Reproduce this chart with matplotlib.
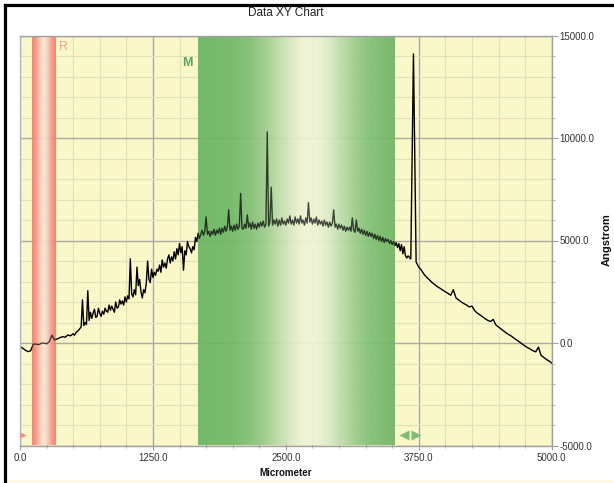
import matplotlib.pyplot as plt
import numpy as np
from matplotlib.colors import to_rgb
from matplotlib.lines import Line2D
from matplotlib.patches import Rectangle
from matplotlib.ticker import MultipleLocator, FormatStrFormatter
from matplotlib.transforms import offset_copy

plt.rcParams["font.family"] = ["Liberation Sans", "DejaVu Sans"]

# scan profile: 25 um steps at the ends, 12.5 um steps through the noisy middle
position_um = np.concatenate([
    np.arange(0, 500, 25),
    np.arange(500, 3650, 12.5),
    np.arange(3650, 5001, 25),
])
height_A = [
    # 0 - 475
    -180, -250, -350, -420, -380, -60, -50, -80,
    -20, 0, -40, 60, 380, 150, 200, 260,
    310, 280, 390, 350,
    # 500 - 3637.5
    450, 380, 500, 560, 620, 700, 780, 2100, 850, 1000, 900, 2550, 1100, 1500, 1200, 1450,
    1650, 1250, 1300, 1700, 1450, 1300, 1550, 1400, 1700, 1550, 1500, 1850, 1600, 1800, 1650, 1500,
    2000, 1700, 1750, 2100, 1900, 2050, 1850, 2250, 2000, 2300, 2150, 4100, 2400, 2250, 2600, 2350,
    3700, 2800, 3100, 2500, 2200, 2600, 2450, 2900, 4000, 3100, 2950, 3600, 3200, 3450, 3300, 3600,
    3500, 3800, 3450, 4050, 3700, 3900, 3650, 4100, 4300, 3900, 4200, 4000, 4450, 4100, 4600, 4300,
    4850, 4400, 4700, 3550, 4500, 4300, 4950, 4700, 4600, 4400, 4700, 4550, 5150, 4950, 5350, 5100,
    5300, 5500, 5250, 5450, 6150, 5300, 5450, 5200, 5450, 5300, 5550, 5250, 5500, 5350, 5600, 5300,
    5600, 5400, 5700, 5450, 5650, 6500, 5500, 5700, 5450, 5750, 5500, 5800, 5550, 5700, 7300, 5600,
    5550, 5800, 5600, 6250, 5650, 5850, 5550, 5900, 5600, 5800, 5550, 5850, 5650, 5900, 5700, 5950,
    5650, 5800, 10300, 5700, 5900, 7600, 5750, 6000, 5800, 6050, 5700, 6000, 5750, 6100, 5800, 5950,
    5750, 6050, 5850, 6200, 5800, 6000, 5750, 6150, 5850, 6050, 5800, 6200, 5850, 6000, 5750, 6100,
    5850, 6850, 5900, 6100, 5800, 6050, 5850, 6150, 5750, 6000, 5800, 5950, 5700, 6000, 5750, 5900,
    5650, 5900, 5700, 5850, 6500, 5650, 5800, 5550, 5800, 5600, 5750, 5500, 5700, 5450, 5650, 5500,
    5650, 5450, 6100, 5500, 5400, 6000, 5450, 5600, 5350, 5550, 5300, 5500, 5250, 5450, 5200, 5400,
    5200, 5350, 5100, 5300, 5050, 5250, 5000, 5200, 4950, 5150, 4900, 5100, 4950, 5050, 4850, 5000,
    4800, 4950, 4750, 4900, 4650, 4850, 4500, 4800, 4350, 4700, 4250, 4150,
    # 3650 - 5000
    4250, 4100, 14100, 3950, 3700, 3550,
    3350, 3200, 3080, 2950, 2850, 2750, 2670, 2580,
    2500, 2420, 2330, 2600, 2200, 2100, 2000, 1920,
    1850, 1760, 1800, 1580, 1460, 1370, 1280, 1180,
    1100, 1050, 1150, 880, 780, 680, 580, 480,
    400, 320, 220, 130, 40, -60, -150, -230,
    -300, -380, -430, -200, -600, -700, -800, -880,
    -980,
]

# reference (R) and measurement (M) windows, cursor positions
R_WINDOW = (110, 330)
M_WINDOW = (1675, 3525)
LEFT_CURSOR = 0
RIGHT_CURSOR = 3670

X_RANGE = (0, 5000)
Y_RANGE = (-5000, 15000)


def band(ax, window, edge, light, peak, width, alpha, zorder):
    """Vertical gradient band: dark edges fading to a light core."""
    t = np.linspace(0, 1, 300)
    w = np.exp(-((t - peak) / width) ** 2)
    e, l = np.array(to_rgb(edge)), np.array(to_rgb(light))
    img = (e + (l - e) * w[:, None])[None, :, :]
    ax.imshow(img, extent=(window[0], window[1], Y_RANGE[0], Y_RANGE[1]),
              aspect="auto", alpha=alpha, zorder=zorder, interpolation="bilinear")


fig = plt.figure(figsize=(6.14, 4.83), dpi=100)
ax = fig.add_axes([20 / 614, 37.5 / 483, 531.7 / 614, 410 / 483])
ax.set_facecolor("#FAF7C8")

ax.plot(position_um, height_A, color="black", lw=1.0, zorder=3)

green = dict(edge="#6CB663", light="#F0F4D8", peak=0.57, width=0.23)
red = dict(edge="#F27A69", light="#FBE2D2", peak=0.5, width=0.3)
band(ax, M_WINDOW, alpha=0.9, zorder=1, **green)
band(ax, R_WINDOW, alpha=0.9, zorder=1, **red)
# light overlay tints the trace inside the windows
band(ax, M_WINDOW, alpha=0.3, zorder=4, **green)
band(ax, R_WINDOW, alpha=0.3, zorder=4, **red)

ax.set_xlim(*X_RANGE)
ax.set_ylim(*Y_RANGE)

ax.xaxis.set_major_locator(MultipleLocator(1250))
ax.xaxis.set_minor_locator(MultipleLocator(250))
ax.yaxis.set_major_locator(MultipleLocator(5000))
ax.yaxis.set_minor_locator(MultipleLocator(1000))
ax.xaxis.set_major_formatter(FormatStrFormatter("%.1f"))
ax.yaxis.set_major_formatter(FormatStrFormatter("%.1f"))
ax.set_axisbelow(True)
ax.grid(which="major", color="#ABABA2", lw=1.0)
ax.grid(which="minor", color="#E2DFBC", lw=0.8)

ax.yaxis.tick_right()
ax.tick_params(axis="both", which="both", colors="#A0A0A0", labelcolor="#333333",
               labelsize=7)
ax.tick_params(axis="x", which="major", direction="out", length=3, pad=2.5)
ax.tick_params(axis="x", which="minor", direction="inout", length=3)
ax.tick_params(axis="y", which="major", direction="out", length=4, pad=1.5)
ax.tick_params(axis="y", which="minor", direction="out", length=2.5)

for name, sp in ax.spines.items():
    sp.set_color("#A9BCDC" if name == "left" else "#A0A0A0")
    sp.set_linewidth(1.0)
    sp.set_zorder(5)

# window labels
ax.annotate("R", xy=(R_WINDOW[1], 1), xycoords=("data", "axes fraction"),
            xytext=(6, -8), textcoords="offset points", ha="center", va="center",
            color="#F4A08E", fontsize=9, zorder=6)
ax.annotate("M", xy=(M_WINDOW[0], 1), xycoords=("data", "axes fraction"),
            xytext=(-8, -19.5), textcoords="offset points", ha="center", va="center",
            color="#5EA65E", fontsize=9, fontweight="bold", zorder=6)

# cursors along the bottom edge
xt = ax.get_xaxis_transform()
ax.plot([LEFT_CURSOR], [0.026], marker=">", ms=5, color="#F08C80", mec="none",
        transform=offset_copy(xt, fig=fig, x=2.5, units="dots"), clip_on=False, zorder=6)
ax.plot([RIGHT_CURSOR], [0.026], marker="<", ms=7.5, color="#7CBE74", mec="none",
        transform=offset_copy(xt, fig=fig, x=-6, units="dots"), zorder=6)
ax.plot([RIGHT_CURSOR], [0.026], marker=">", ms=7.5, color="#7CBE74", mec="none",
        transform=offset_copy(xt, fig=fig, x=6, units="dots"), zorder=6)

fig.text(286 / 614, 1 - 13.5 / 483, "Data XY Chart", ha="center", va="center",
         fontsize=8.5, color="#222222")
fig.text(286 / 614, 1 - 473 / 483, "Micrometer", ha="center", va="center",
         fontsize=7, fontweight="bold", color="#111111")
fig.text(607 / 614, 1 - 240 / 483, "Angstrom", ha="center", va="center",
         rotation=90, fontsize=8, fontweight="bold", color="#111111")

# outer frame on the left and top, pale strip along the bottom
fig.add_artist(Rectangle((0.012, 0), 0.988, 3 / 483, transform=fig.transFigure,
                         color="#FCFAE2", lw=0))
fig.add_artist(Line2D([4.5 / 614, 4.5 / 614], [0, 1 - 4.5 / 483],
                      transform=fig.transFigure, color="black", lw=2.3))
fig.add_artist(Line2D([4.5 / 614, 1], [1 - 4.5 / 483, 1 - 4.5 / 483],
                      transform=fig.transFigure, color="black", lw=2.3))

fig.savefig("out.png", dpi=100)
